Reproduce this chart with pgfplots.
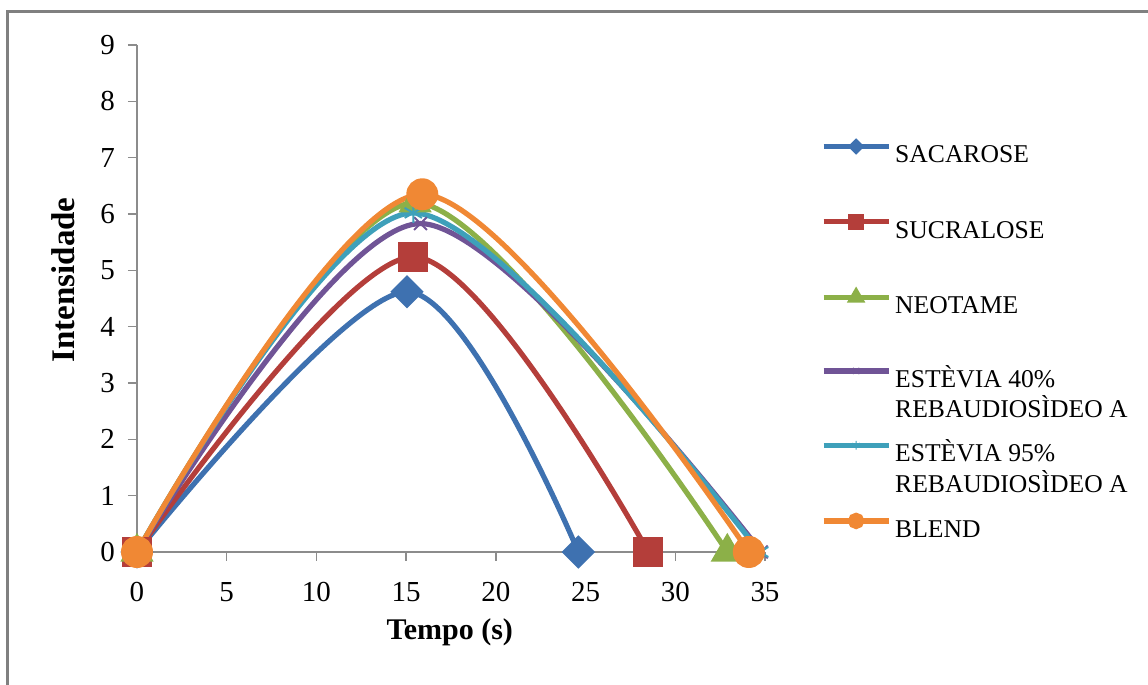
\documentclass[border=0pt]{standalone}
\usepackage{fontspec}
\setmainfont{Liberation Serif}
\usepackage{pgfplots}
\pgfplotsset{compat=1.18}
\definecolor{cA}{RGB}{62,113,176}
\definecolor{cB}{RGB}{180,62,58}
\definecolor{cC}{RGB}{140,176,72}
\definecolor{cD}{RGB}{112,84,150}
\definecolor{cE}{RGB}{62,160,186}
\definecolor{cF}{RGB}{240,136,52}
\definecolor{axgray}{RGB}{140,140,140}
\definecolor{framegray}{RGB}{128,128,128}
\newcommand\LE[1]{\begin{tabular}[t]{@{}l@{}}#1\end{tabular}}
\begin{document}
\begin{tikzpicture}
\useasboundingbox (-68.5pt,-66.5pt) rectangle (505.5pt,276pt);
\draw[line width=1.5pt, framegray] (-64.75pt,-66.5pt) -- (-64.75pt,270.3pt) -- (505.5pt,270.3pt);
\begin{axis}[
  at={(0,0)}, anchor=south west,
  width=314pt, height=253.5pt, scale only axis,
  xmin=0, xmax=35, ymin=0, ymax=9,
  xtick={0,5,...,35}, ytick={0,1,...,9},
  axis x line=bottom, axis y line=left,
  axis line style={-, draw=axgray, line width=0.75pt},
  xtick align=outside, ytick align=outside,
  major tick length=4.5pt,
  tick style={axgray, line width=0.75pt},
  clip=false,
  /pgf/number format/assume math mode=true,
  ticklabel style={font=\fontsize{14.5}{16}\selectfont},
  yticklabel style={xshift=-3pt},
  xticklabel style={yshift=-7pt},
  xlabel={Tempo (s)}, ylabel={Intensidade},
  every axis x label/.style={at={(axis description cs:0.498,0)}, anchor=base, yshift=-44pt, font=\fontsize{15}{17}\selectfont\bfseries},
  every axis y label/.style={at={(axis description cs:0,0.5365)}, anchor=base, rotate=90, yshift=31pt, font=\fontsize{16.5}{18}\selectfont\bfseries},
  legend cell align=left,
  legend style={draw=none, fill=none, at={(1.0892,0.8087)}, anchor=north west,
    inner sep=0pt, outer sep=0pt, font=\fontsize{12.8}{14.5}\selectfont,
    row sep=24.8pt, nodes={inner sep=2pt, text height=8pt, text depth=0pt}},
  legend image code/.code={\draw[mark repeat=2,mark phase=2,#1] plot coordinates {(0pt,4.2pt)(16.25pt,4.2pt)(32.5pt,4.2pt)};},
  every axis plot/.append style={line width=2.6pt, smooth},
]
\addplot[cA, mark=square*, mark size=4.6pt, mark options={solid, fill=cA, rotate=45}, legend image post style={mark size=1.6pt}]
  coordinates {(0,0) (15.05,4.62) (24.6,0)};
\addlegendentry{\LE{SACAROSE}}
\addplot[cB, mark=square*, mark size=6.2pt, mark options={solid, fill=cB}, legend image post style={mark size=2.6pt}]
  coordinates {(0,0) (15.4,5.24) (28.5,0)};
\addlegendentry{\LE{SUCRALOSE}}
\addplot[cC, mark=triangle*, mark size=7pt, mark options={solid, fill=cC}, legend image post style={mark size=2.8pt}]
  coordinates {(0,0) (15.5,6.2) (32.9,0)};
\addlegendentry{\LE{NEOTAME}}
\addplot[cD, mark=x, mark size=4.5pt, mark options={solid, line width=1pt}, legend image post style={mark size=2.2pt, mark options={solid, line width=0.5pt}}]
  coordinates {(0,0) (15.8,5.83) (34.8,0)};
\addlegendentry{\LE{ESTÈVIA 40\%\\REBAUDIOSÌDEO A}}
\addplot[cE, mark=asterisk, mark size=5pt, mark options={solid, line width=1pt}, legend image post style={mark size=2.2pt, mark options={solid, line width=0.5pt}}]
  coordinates {(0,0) (15.4,6.02) (34.7,0)};
\addlegendentry{\LE{ESTÈVIA 95\%\\REBAUDIOSÌDEO A}}
\addplot[cF, mark=*, mark size=6.7pt, mark options={solid, fill=cF}, legend image post style={mark size=2.8pt}]
  coordinates {(0,0) (15.9,6.35) (34.1,0)};
\addlegendentry{\LE{BLEND}}
\end{axis}
\end{tikzpicture}
\end{document}
